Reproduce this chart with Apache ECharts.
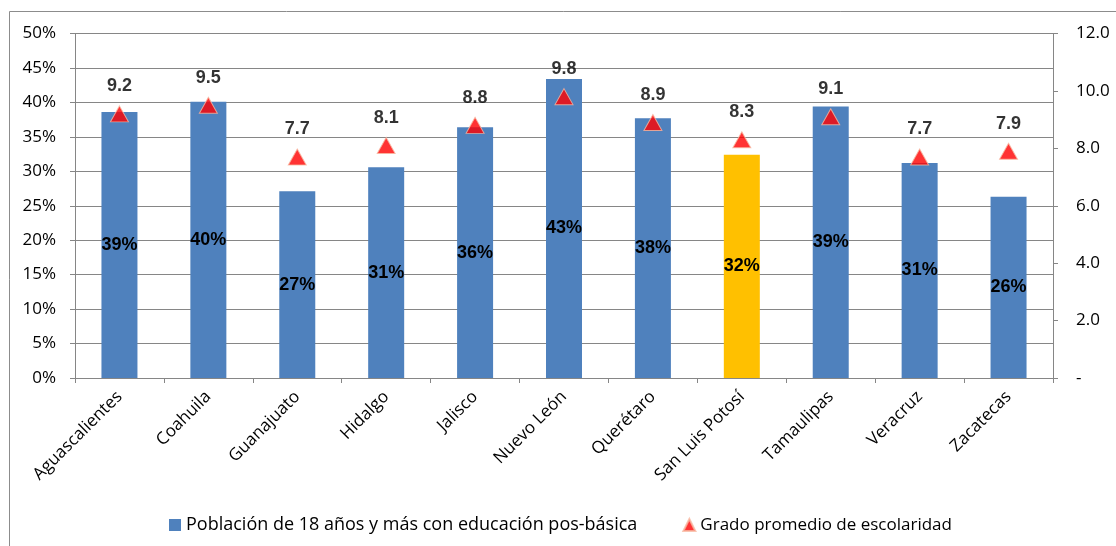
<!DOCTYPE html>
<html>
<head>
<meta charset="utf-8">
<script src="https://cdn.jsdelivr.net/npm/echarts@6/dist/echarts.min.js"></script>
<style>
html,body{margin:0;padding:0;background:#fff;}
#chart{width:1116px;height:546px;}
</style>
</head>
<body>
<div id="chart"></div>
<script>
const categories = ['Aguascalientes','Coahuila','Guanajuato','Hidalgo','Jalisco','Nuevo León','Querétaro','San Luis Potosí','Tamaulipas','Veracruz','Zacatecas'];
const posBasica = [0.386, 0.401, 0.271, 0.306, 0.364, 0.434, 0.377, 0.324, 0.394, 0.312, 0.263];
const escolaridad = [9.2, 9.5, 7.7, 8.1, 8.8, 9.8, 8.9, 8.3, 9.1, 7.7, 7.9];
const highlighted = 'San Luis Potosí';
const seriesNames = ['Población de 18 años y más con educación pos-básica', 'Grado promedio de escolaridad'];

const BLUE = '#4F81BD', GOLD = '#FFC000', RED = '#FF0000', GRAY = '#868686';
const chart = echarts.init(document.getElementById('chart'));

const barData = posBasica.map((v, i) => ({
  value: v,
  itemStyle: { color: categories[i] === highlighted ? GOLD : BLUE }
}));

chart.setOption({
  animation: false,
  backgroundColor: '#fff',
  graphic: [{
    type: 'rect',
    shape: { x: 9.5, y: 11.5, width: 1200, height: 600 },
    style: { fill: 'none', stroke: '#8c8c8c', lineWidth: 1 },
    silent: true
  }],
  grid: { left: 75, right: 63, top: 33.5, bottom: 168 },
  legend: {
    left: 164, top: 511,
    itemGap: 45,
    itemWidth: 12, itemHeight: 12,
    textStyle: { fontFamily: 'Open Sans', fontSize: 18, color: '#000' },
    data: [
      { name: seriesNames[0], icon: 'rect', itemStyle: { color: BLUE } },
      { name: seriesNames[1], icon: 'triangle', itemStyle: { color: RED },
        textStyle: { fontSize: 17 } }
    ]
  },
  xAxis: {
    type: 'category',
    data: categories,
    boundaryGap: true,
    axisLine: { lineStyle: { color: GRAY } },
    axisTick: { show: true, alignWithLabel: false, length: 5, lineStyle: { color: GRAY } },
    axisLabel: { rotate: 45, interval: 0, margin: 16, fontFamily: 'Open Sans', fontSize: 17, color: '#000' }
  },
  yAxis: [{
    type: 'value', min: 0, max: 0.5, interval: 0.05,
    axisLine: { show: true, lineStyle: { color: GRAY } },
    axisTick: { show: true, length: 5, lineStyle: { color: GRAY } },
    splitLine: { show: true, lineStyle: { color: GRAY, width: 1 } },
    axisLabel: { margin: 19, fontFamily: 'Open Sans', fontSize: 17, color: '#000',
      formatter: v => Math.round(v * 100) + '%' }
  }, {
    type: 'value', min: 0, max: 12, interval: 2, position: 'right',
    axisLine: { show: true, lineStyle: { color: GRAY } },
    axisTick: { show: true, length: 5, lineStyle: { color: GRAY } },
    splitLine: { show: false },
    axisLabel: { margin: 23, fontFamily: 'Open Sans', fontSize: 17, color: '#000',
      formatter: v => v === 0 ? '-' : v.toFixed(1) }
  }],
  series: [{
    name: seriesNames[0],
    type: 'bar',
    yAxisIndex: 0,
    barWidth: 36,
    data: barData,
    itemStyle: { color: BLUE },
    label: {
      show: true, position: 'inside',
      fontFamily: 'Liberation Sans', fontWeight: 'bold', fontSize: 18, color: '#000',
      formatter: p => Math.round(p.value * 100) + '%'
    }
  }, {
    name: seriesNames[1],
    type: 'scatter',
    yAxisIndex: 1,
    symbol: 'triangle',
    symbolSize: [18, 16],
    data: escolaridad,
    itemStyle: { color: RED, borderColor: '#F8B8A0', borderWidth: 1 },
    label: {
      show: true, position: 'top', distance: 10,
      fontFamily: 'Liberation Sans', fontWeight: 'bold', fontSize: 18, color: '#000',
      formatter: p => p.value.toFixed(1)
    }
  }]
});
</script>
</body>
</html>
